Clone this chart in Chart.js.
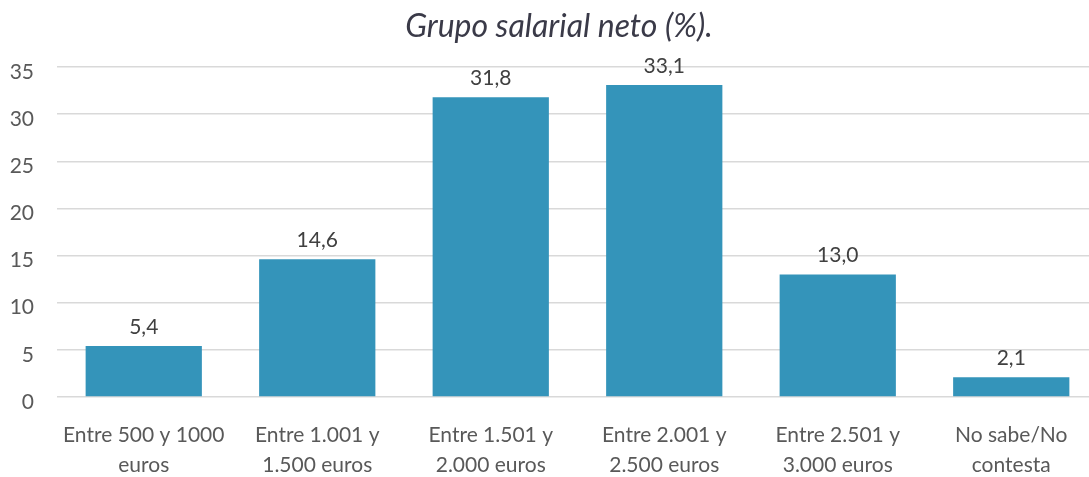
<!DOCTYPE html>
<html>
<head>
<meta charset="UTF-8" />
<script src="https://cdn.jsdelivr.net/npm/chart.js"></script>
<style>
  html, body { margin: 0; padding: 0; background: #fff; overflow: hidden; }
  #wrap { width: 1089px; height: 477px; overflow: hidden; }
  #box { position: relative; width: 1118px; height: 477px; }
</style>
</head>
<body>
<div id="wrap"><div id="box"><canvas id="chart"></canvas></div></div>
<script>
const categories = [
  ["Entre 500 y 1000", "euros"],
  ["Entre 1.001 y", "1.500 euros"],
  ["Entre 1.501 y", "2.000 euros"],
  ["Entre 2.001 y", "2.500 euros"],
  ["Entre 2.501 y", "3.000 euros"],
  ["No sabe/No", "contesta"]
];
const values = [5.4, 14.6, 31.8, 33.1, 13.0, 2.1];
const titleText = "Grupo salarial neto (%).";

const FONT = "Lato, 'Liberation Sans', sans-serif";
const barColor = "#3494BA";

// title drawn centred on the whole canvas
const titlePlugin = {
  id: "titleText",
  afterDraw(chart) {
    const ctx = chart.ctx;
    ctx.save();
    ctx.font = "italic 32px " + FONT;
    ctx.fillStyle = "#3a3a48";
    ctx.textAlign = "center";
    ctx.textBaseline = "middle";
    ctx.fillText(titleText, chart.width / 2, 27);
    ctx.restore();
  }
};

// value labels above bars, comma decimals
const valueLabels = {
  id: "valueLabels",
  afterDatasetsDraw(chart) {
    const ctx = chart.ctx;
    const meta = chart.getDatasetMeta(0);
    ctx.save();
    ctx.font = "21px " + FONT;
    ctx.fillStyle = "#404040";
    ctx.textAlign = "center";
    ctx.textBaseline = "middle";
    meta.data.forEach((bar, i) => {
      ctx.fillText(values[i].toFixed(1).replace(".", ","), bar.x, bar.y - 19);
    });
    ctx.restore();
  }
};

new Chart(document.getElementById("chart"), {
  type: "bar",
  data: {
    labels: categories,
    datasets: [{
      data: values,
      backgroundColor: barColor,
      barPercentage: 0.67,
      categoryPercentage: 1
    }]
  },
  options: {
    responsive: true,
    maintainAspectRatio: false,
    animation: false,
    layout: { padding: { top: 67, right: 20, bottom: 0, left: 0 } },
    plugins: {
      legend: { display: false },
      title: { display: false },
      tooltip: { enabled: false }
    },
    scales: {
      x: {
        grid: { display: false, drawTicks: false },
        border: { display: false },
        ticks: {
          color: "#595959",
          font: { family: FONT, size: 21, lineHeight: 1.4 },
          padding: 24,
          maxRotation: 0,
          autoSkip: false
        },
        afterFit(scale) { scale.height = 80; }
      },
      y: {
        min: 0,
        max: 35,
        grid: { color: "#d9d9d9", lineWidth: 1.5, drawTicks: false },
        border: { display: false },
        ticks: {
          stepSize: 5,
          color: "#595959",
          font: { family: FONT, size: 21 },
          padding: 23,
          labelOffset: 5
        },
        afterFit(scale) { scale.width = 57; }
      }
    }
  },
  plugins: [titlePlugin, valueLabels]
});
</script>
</body>
</html>
